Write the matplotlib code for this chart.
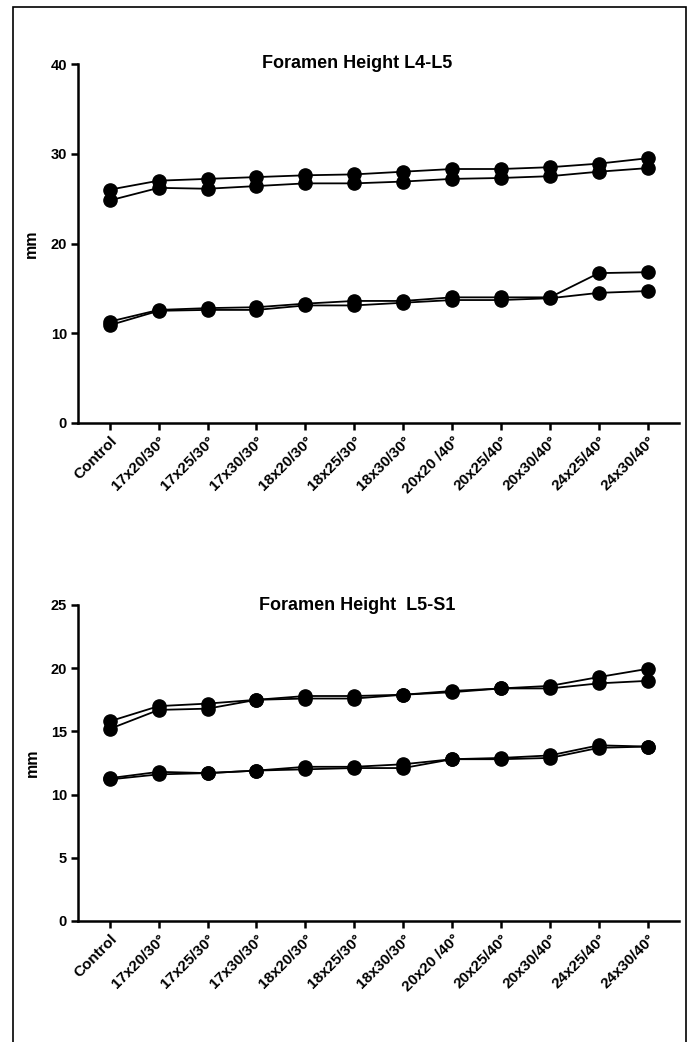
import matplotlib
matplotlib.use("Agg")
import matplotlib.pyplot as plt
from matplotlib.patches import Rectangle

plt.rcParams['font.family'] = ['Liberation Sans', 'DejaVu Sans']

categories = ["Control", "17x20/30°", "17x25/30°", "17x30/30°", "18x20/30°",
              "18x25/30°", "18x30/30°", "20x20 /40°", "20x25/40°",
              "20x30/40°", "24x25/40°", "24x30/40°"]

# Foramen height L4-L5 (mm)
l4l5_a = [26.0, 27.0, 27.2, 27.4, 27.6, 27.7, 28.0, 28.3, 28.3, 28.5, 28.9, 29.5]
l4l5_b = [24.8, 26.2, 26.1, 26.4, 26.7, 26.7, 26.9, 27.2, 27.3, 27.5, 28.0, 28.4]
l4l5_c = [11.3, 12.6, 12.8, 12.9, 13.3, 13.6, 13.6, 14.0, 14.0, 14.0, 16.7, 16.8]
l4l5_d = [10.9, 12.5, 12.6, 12.6, 13.1, 13.1, 13.4, 13.7, 13.7, 13.9, 14.5, 14.7]

# Foramen height L5-S1 (mm)
l5s1_a = [15.8, 17.0, 17.2, 17.5, 17.8, 17.8, 17.9, 18.2, 18.4, 18.6, 19.3, 19.95]
l5s1_b = [15.2, 16.7, 16.8, 17.5, 17.6, 17.6, 17.9, 18.1, 18.4, 18.4, 18.8, 19.0]
l5s1_c = [11.3, 11.8, 11.7, 11.9, 12.2, 12.2, 12.4, 12.8, 12.9, 13.1, 13.9, 13.8]
l5s1_d = [11.2, 11.6, 11.7, 11.9, 12.0, 12.1, 12.1, 12.8, 12.8, 12.9, 13.7, 13.8]

W, H = 693, 1042
fig = plt.figure(figsize=(W / 100, H / 100), dpi=100)

# outer frame
fig.patches.append(Rectangle((13 / W, -0.01), (686 - 13) / W, 1 - 7 / H + 0.01,
                             transform=fig.transFigure, fill=False,
                             edgecolor='black', linewidth=1.2))


def draw_panel(rect, series, ymax, yticks, title, title_y):
    ax = fig.add_axes(rect)
    x = list(range(len(categories)))
    for s in series:
        ax.plot(x, s, color='black', linewidth=1.3, marker='o',
                markersize=9.5, markerfacecolor='black', markeredgecolor='black')
    ax.set_xlim(-0.65, 11.65)
    ax.set_ylim(0, ymax)
    ax.set_yticks(yticks)
    ax.set_xticks(x)
    ax.set_xticklabels(categories, rotation=45, ha='right',
                       rotation_mode='anchor', fontsize=11, fontweight='bold')
    for lab in ax.get_yticklabels():
        lab.set_fontweight('bold')
        lab.set_fontsize(10.5)
    ax.spines['top'].set_visible(False)
    ax.spines['right'].set_visible(False)
    ax.spines['left'].set_linewidth(1.8)
    ax.spines['bottom'].set_linewidth(1.8)
    ax.tick_params(axis='both', width=1.8, length=5, pad=3)
    ax.set_ylabel('mm', fontsize=11.5, fontweight='bold', labelpad=8)
    fig.text(357 / W, 1 - title_y / H, title, ha='center', va='center',
             fontsize=13, fontweight='bold')
    return ax


ax1 = draw_panel([78 / W, 1 - 423 / H, 601.5 / W, (423 - 64) / H],
                 [l4l5_a, l4l5_b, l4l5_c, l4l5_d], 40, [0, 10, 20, 30, 40],
                 "Foramen Height L4-L5", 64)
ax2 = draw_panel([78 / W, 1 - 921 / H, 601.5 / W, (921 - 605) / H],
                 [l5s1_a, l5s1_b, l5s1_c, l5s1_d], 25, [0, 5, 10, 15, 20, 25],
                 "Foramen Height  L5-S1", 605)

fig.savefig("out.png", dpi=100)
